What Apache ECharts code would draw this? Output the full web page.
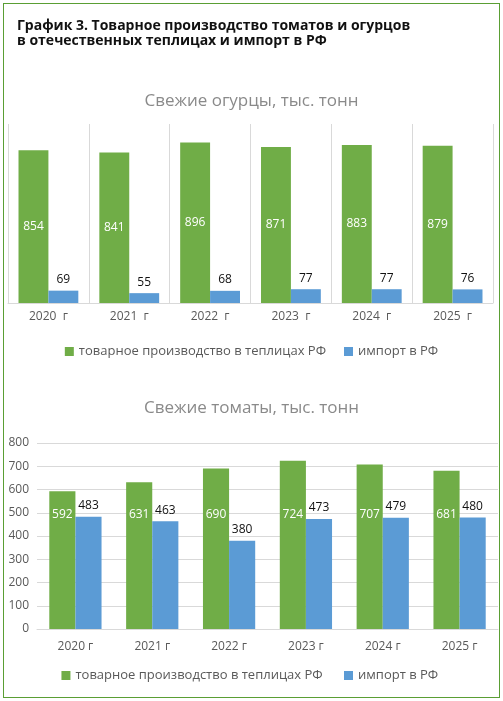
<!DOCTYPE html><html><head><meta charset="utf-8"><script src="https://cdn.jsdelivr.net/npm/echarts@6/dist/echarts.min.js"></script>
<style>body{margin:0;background:#fff}#b{position:absolute;left:3px;top:3px;width:495px;height:693px;border:1.5px solid #5a9e34}#c{position:absolute;left:0;top:0;width:503px;height:701px}</style></head><body><div id="b"></div><div id="c"></div><script>
const cucCats=['2020  г','2021  г','2022  г','2023  г','2024  г','2025  г'];
const cucProd=[854,841,896,871,883,879];
const cucImp=[69,55,68,77,77,76];
const tomCats=['2020 г','2021 г','2022 г','2023 г','2024 г','2025 г'];
const tomProd=[592,631,690,724,707,681];
const tomImp=[483,463,380,473,479,480];
const tomTicks=[0,100,200,300,400,500,600,700,800];
const G='#70ad47',B='#5b9bd5',ff='"Open Sans", "DejaVu Sans", sans-serif';
const ch=echarts.init(document.getElementById('c'));
const lbl={fontFamily:ff,fontSize:12};
ch.setOption({
title:[{text:'График 3. Товарное производство томатов и огурцов\nв отечественных теплицах и импорт в РФ',left:12,top:14,textStyle:{fontFamily:ff,fontSize:14,fontWeight:'bold',color:'#111',lineHeight:15}},
{text:'Свежие огурцы, тыс. тонн',left:'center',top:88,textStyle:{fontFamily:ff,fontSize:17,fontWeight:'normal',color:'#8a8a8a'}},
{text:'Свежие томаты, тыс. тонн',left:'center',top:395,textStyle:{fontFamily:ff,fontSize:17,fontWeight:'normal',color:'#8a8a8a'}}],
legend:[{top:340,left:'center',itemWidth:9,itemHeight:9,itemGap:18,icon:'rect',textStyle:{fontFamily:ff,fontSize:13,color:'#595959'},data:['товарное производство в теплицах РФ','импорт в РФ']},
{top:664,left:'center',itemWidth:9,itemHeight:9,itemGap:18,icon:'rect',textStyle:{fontFamily:ff,fontSize:13,color:'#595959'},data:['товарное производство в теплицах РФ ','импорт в РФ ']}],
grid:[{left:8,right:10,top:124,height:179},{left:37,right:5,top:443,height:186}],
xAxis:[{gridIndex:0,type:'category',data:cucCats,axisTick:{show:false},axisLine:{lineStyle:{color:'#d9d9d9'}},splitLine:{show:true,lineStyle:{color:'#d9d9d9'}},axisLabel:{color:'#595959',fontFamily:ff,fontSize:12,margin:8}},
{gridIndex:1,type:'category',data:tomCats,axisTick:{show:false},axisLine:{lineStyle:{color:'#d9d9d9'}},axisLabel:{color:'#595959',fontFamily:ff,fontSize:12,margin:12}}],
yAxis:[{gridIndex:0,type:'value',min:0,max:1000,show:false,splitLine:{show:false}},
{gridIndex:1,type:'value',min:0,max:800,interval:100,axisLabel:{color:'#595959',fontFamily:ff,fontSize:12,formatter:v=>tomTicks.includes(v)?String(v):''},splitLine:{lineStyle:{color:'#d9d9d9'}},axisLine:{show:false},axisTick:{show:false}}],
series:[
{name:'товарное производство в теплицах РФ',type:'bar',xAxisIndex:0,yAxisIndex:0,data:cucProd,itemStyle:{color:G},barGap:'0%',barCategoryGap:'26%',label:{show:true,position:'inside',color:'#fff',...lbl}},
{name:'импорт в РФ',type:'bar',xAxisIndex:0,yAxisIndex:0,data:cucImp,itemStyle:{color:B},label:{show:true,position:'top',color:'#111',...lbl}},
{name:'товарное производство в теплицах РФ ',type:'bar',xAxisIndex:1,yAxisIndex:1,data:tomProd,itemStyle:{color:G},barGap:'0%',barCategoryGap:'32%',label:{show:true,position:'insideBottom',distance:108,color:'#fff',...lbl}},
{name:'импорт в РФ ',type:'bar',xAxisIndex:1,yAxisIndex:1,data:tomImp,itemStyle:{color:B},label:{show:true,position:'top',color:'#111',...lbl}}
]});
</script></body></html>
